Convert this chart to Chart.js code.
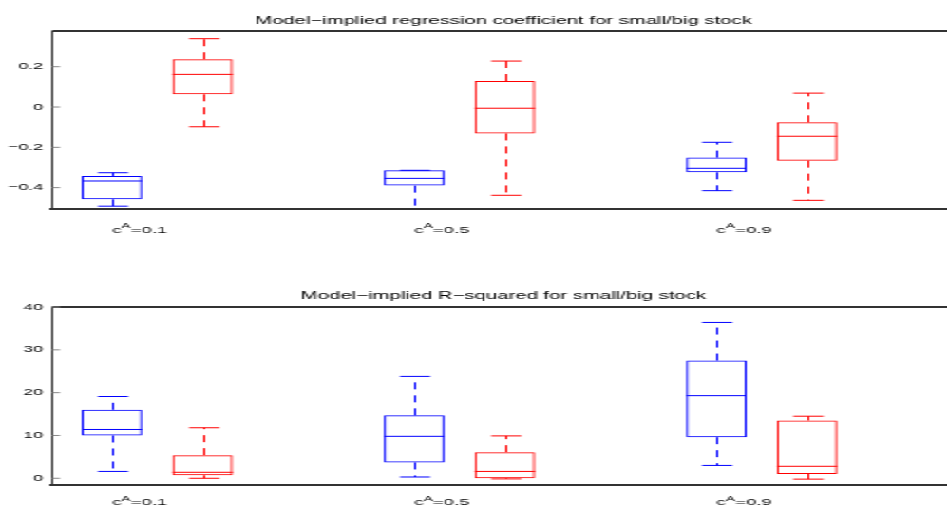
<!DOCTYPE html>
<html>
<head>
<meta charset="utf-8">
<script src="https://cdn.jsdelivr.net/npm/chart.js@4.4.0/dist/chart.umd.min.js"></script>
<style>
  html, body { margin: 0; padding: 0; background: #fff; overflow: hidden; }
  /* the original figure is stretched sideways, so draw narrow and stretch */
  #stretch { width: 530px; height: 506px; transform: scaleX(1.9); transform-origin: 0 0; }
  .panel { position: relative; width: 530px; height: 253px; }
</style>
</head>
<body>
<div id="stretch">
  <div class="panel"><canvas id="coefChart"></canvas></div>
  <div class="panel"><canvas id="r2Chart"></canvas></div>
</div>
<script>
// ==== DATA ====
const categories = ['0.1', '0.5', '0.9'];   // c^A values
const categoryPos = [1, 2, 3];
const coefTicks = [-0.4, -0.2, 0, 0.2];
const r2Ticks = [0, 10, 20, 30, 40];

// regression coefficient, small stock (blue)
const smallCoefLo  = [-0.492, -0.55, -0.415];
const smallCoefQ1  = [-0.458, -0.390, -0.324];
const smallCoefMed = [-0.367, -0.354, -0.304];
const smallCoefQ3  = [-0.342, -0.314, -0.251];
const smallCoefHi  = [-0.326, -0.314, -0.175];
// regression coefficient, big stock (red)
const bigCoefLo  = [-0.098, -0.438, -0.463];
const bigCoefQ1  = [0.063, -0.131, -0.266];
const bigCoefMed = [0.162, -0.006, -0.145];
const bigCoefQ3  = [0.237, 0.129, -0.076];
const bigCoefHi  = [0.339, 0.228, 0.069];

// R-squared, small stock (blue)
const smallR2Lo  = [1.6, 0.3, 3.0];
const smallR2Q1  = [10.0, 3.7, 9.6];
const smallR2Med = [11.4, 9.8, 19.3];
const smallR2Q3  = [16.0, 14.7, 27.5];
const smallR2Hi  = [19.1, 23.8, 36.4];
// R-squared, big stock (red)
const bigR2Lo  = [0.0, -0.15, -0.2];
const bigR2Q1  = [0.7, 0.0, 1.0];
const bigR2Med = [1.4, 1.6, 2.8];
const bigR2Q3  = [5.4, 6.1, 13.5];
const bigR2Hi  = [11.8, 9.9, 14.5];

const BOX_OFFSET = 0.15;
const FONT = '"Liberation Sans", Arial, Helvetica, sans-serif';
Chart.defaults.font.family = FONT;

// whiskers, caps, medians, frame and x labels
const boxPlotParts = {
    id: 'boxPlotParts',
    afterDatasetsDraw(chart) {
        const ctx = chart.ctx;
        const y = chart.scales.y;
        const area = chart.chartArea;
        ctx.save();
        ctx.beginPath();
        ctx.rect(area.left, area.top, area.right - area.left, area.bottom - area.top);
        ctx.clip();
        chart.data.datasets.forEach((ds, i) => {
            chart.getDatasetMeta(i).data.forEach((bar, j) => {
                const x = Math.round(bar.x) + 0.5;
                const half = bar.width / 2;
                const lo = y.getPixelForValue(ds.whiskerLo[j]);
                const hi = y.getPixelForValue(ds.whiskerHi[j]);
                const q1 = y.getPixelForValue(ds.data[j].y[0]);
                const q3 = y.getPixelForValue(ds.data[j].y[1]);
                const med = y.getPixelForValue(ds.median[j]);
                ctx.strokeStyle = ds.borderColor;
                ctx.lineWidth = 1;
                ctx.setLineDash([7, 6]);
                ctx.beginPath();
                ctx.moveTo(x, q3); ctx.lineTo(x, hi);
                ctx.moveTo(x, q1); ctx.lineTo(x, lo);
                ctx.stroke();
                ctx.setLineDash([]);
                ctx.beginPath();
                ctx.moveTo(x - half / 2, hi); ctx.lineTo(x + half / 2, hi);
                ctx.moveTo(x - half / 2, lo); ctx.lineTo(x + half / 2, lo);
                ctx.moveTo(bar.x - half, med); ctx.lineTo(bar.x + half, med);
                ctx.stroke();
            });
        });
        ctx.restore();
    },
    afterDraw(chart, args, opts) {
        const ctx = chart.ctx;
        const area = chart.chartArea;
        const y = chart.scales.y;
        const xs = chart.scales.x;
        ctx.save();
        // top frame line
        ctx.strokeStyle = '#333';
        ctx.lineWidth = 2;
        ctx.beginPath();
        ctx.moveTo(area.left, area.top);
        ctx.lineTo(area.right, area.top);
        ctx.stroke();
        // inner tick marks
        ctx.strokeStyle = '#888';
        ctx.lineWidth = 1;
        ctx.beginPath();
        y.ticks.forEach(t => {
            const py = y.getPixelForValue(t.value);
            ctx.moveTo(area.left, py);
            ctx.lineTo(area.left + 4.2, py);
        });
        ctx.stroke();
        // category labels c^A=...
        ctx.fillStyle = '#000';
        ctx.textAlign = 'left';
        ctx.textBaseline = 'alphabetic';
        const yb = area.bottom + opts.labelOffset;
        categories.forEach((c, j) => {
            let x = xs.getPixelForValue(categoryPos[j] - BOX_OFFSET);
            ctx.font = '9.8px ' + FONT;
            ctx.fillText('c', x, yb);
            x += ctx.measureText('c').width;
            ctx.font = '7.4px ' + FONT;
            ctx.fillText('A', x, yb - 4.2);
            x += ctx.measureText('A').width;
            ctx.font = '9.8px ' + FONT;
            ctx.fillText('=' + c, x, yb);
        });
        ctx.restore();
    }
};

function boxDataset(label, color, offset, lo, q1, med, q3, hi) {
    return {
        label: label,
        data: categoryPos.map((p, j) => ({ x: p + offset, y: [q1[j], q3[j]] })),
        median: med,
        whiskerLo: lo,
        whiskerHi: hi,
        backgroundColor: 'rgba(0,0,0,0)',
        borderColor: color,
        borderWidth: 1,
        borderSkipped: false
    };
}

function makeBoxChart(id, cfg) {
    return new Chart(document.getElementById(id), {
        type: 'bar',
        data: { datasets: cfg.datasets },
        options: {
            responsive: true,
            maintainAspectRatio: false,
            animation: false,
            devicePixelRatio: 1,
            layout: { padding: 0 },
            datasets: { bar: { grouped: false, categoryPercentage: 1, barPercentage: 2 / 3 } },
            plugins: {
                legend: { display: false },
                tooltip: { enabled: false },
                title: {
                    display: true,
                    text: cfg.title,
                    color: '#000',
                    font: { size: 10.7, weight: 'normal' },
                    padding: cfg.titlePad
                },
                boxPlotParts: { labelOffset: cfg.labelOffset }
            },
            scales: {
                x: {
                    type: 'linear',
                    min: 0.652,
                    max: 3.811,
                    offset: false,
                    grid: { display: false, drawTicks: false, offset: false },
                    border: { display: true, color: '#333', width: 2 },
                    ticks: { display: false },
                    afterBuildTicks: s => { s.ticks = categoryPos.map(v => ({ value: v })); },
                    afterFit: s => { s.height = cfg.xAxisHeight; }
                },
                y: {
                    min: cfg.yMin,
                    max: cfg.yMax,
                    grid: { display: false, drawTicks: false },
                    border: { display: true, color: '#333', width: 1 },
                    ticks: {
                        color: '#000',
                        padding: 4.8,
                        font: { size: 9.3 },
                        callback: v => String(v).replace('-', '\u2212')
                    },
                    afterBuildTicks: s => { s.ticks = cfg.ticks.map(v => ({ value: v })); },
                    afterFit: s => { s.width = 27.4; }
                }
            }
        },
        plugins: [boxPlotParts]
    });
}

document.addEventListener('DOMContentLoaded', function () {
    // ==== REGRESSION COEFFICIENT ====
    makeBoxChart('coefChart', {
        title: 'Model\u2212implied regression coefficient for small/big stock',
        titlePad: { top: 14.4, bottom: 3.8 },
        xAxisHeight: 44,
        labelOffset: 23.5,
        yMin: -0.506,
        yMax: 0.377,
        ticks: coefTicks,
        datasets: [
            boxDataset('small', '#0000ff', -BOX_OFFSET, smallCoefLo, smallCoefQ1, smallCoefMed, smallCoefQ3, smallCoefHi),
            boxDataset('big', '#ff0000', BOX_OFFSET, bigCoefLo, bigCoefQ1, bigCoefMed, bigCoefQ3, bigCoefHi)
        ]
    });

    // ==== R-SQUARED ====
    makeBoxChart('r2Chart', {
        title: 'Model\u2212implied R\u2212squared for small/big stock',
        titlePad: { top: 36.2, bottom: 5 },
        xAxisHeight: 21.3,
        labelOffset: 20.5,
        yMin: -1.5,
        yMax: 40,
        ticks: r2Ticks,
        datasets: [
            boxDataset('small', '#0000ff', -BOX_OFFSET, smallR2Lo, smallR2Q1, smallR2Med, smallR2Q3, smallR2Hi),
            boxDataset('big', '#ff0000', BOX_OFFSET, bigR2Lo, bigR2Q1, bigR2Med, bigR2Q3, bigR2Hi)
        ]
    });
});
</script>
</body>
</html>
